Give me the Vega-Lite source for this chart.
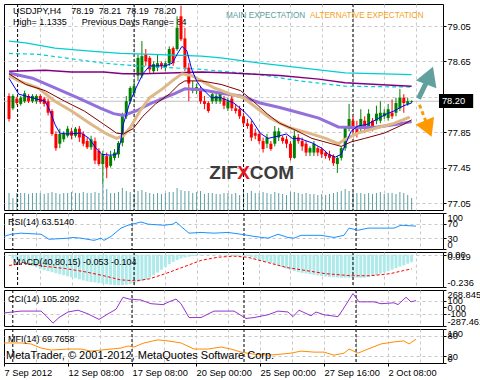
{
"$schema": "https://vega.github.io/schema/vega-lite/v6.json",
"background": "white",
"padding": {"left": 3, "top": 3, "right": -5, "bottom": 0},
"spacing": 3,
"bounds": "flush",
"resolve": {"scale": {"x": "independent", "y": "independent"}},
"config": {
  "view": {"stroke": "black", "strokeWidth": 1},
  "font": "Liberation Sans",
  "axis": {"labelFont": "Liberation Sans", "labelFontSize": 9.3, "labelColor": "black", "tickColor": "black", "domain": false, "gridColor": "#c8c8c8", "gridDash": [3, 3], "gridWidth": 1, "tickSize": 3, "labelPadding": 1, "title": null, "labelOverlap": false, "labelFlush": false, "tickCount": 30},
  "text": {"font": "Liberation Sans"}
},
"datasets": {
  "candles": [
    {"i":0,"o":78.26,"h":78.29,"l":77.97,"c":78.00,"v":1700},
    {"i":1,"o":78.12,"h":78.28,"l":78.10,"c":78.26,"v":1200},
    {"i":2,"o":78.23,"h":78.25,"l":78.16,"c":78.18,"v":1700},
    {"i":3,"o":78.17,"h":78.26,"l":78.15,"c":78.24,"v":1700},
    {"i":4,"o":78.20,"h":78.32,"l":78.18,"c":78.29,"v":1700},
    {"i":5,"o":78.26,"h":78.28,"l":78.18,"c":78.20,"v":1600},
    {"i":6,"o":78.20,"h":78.28,"l":78.18,"c":78.26,"v":1700},
    {"i":7,"o":78.20,"h":78.28,"l":78.17,"c":78.26,"v":1700},
    {"i":8,"o":78.26,"h":78.28,"l":78.17,"c":78.19,"v":1700},
    {"i":9,"o":78.23,"h":78.25,"l":78.14,"c":78.17,"v":1600},
    {"i":10,"o":78.20,"h":78.23,"l":78.04,"c":78.07,"v":1700},
    {"i":11,"o":78.09,"h":78.11,"l":77.81,"c":77.83,"v":1800},
    {"i":12,"o":77.83,"h":77.86,"l":77.64,"c":77.67,"v":1700},
    {"i":13,"o":77.72,"h":77.89,"l":77.67,"c":77.83,"v":1600},
    {"i":14,"o":77.77,"h":77.86,"l":77.74,"c":77.83,"v":1700},
    {"i":15,"o":77.81,"h":77.92,"l":77.79,"c":77.89,"v":1700},
    {"i":16,"o":77.86,"h":77.90,"l":77.77,"c":77.81,"v":1800},
    {"i":17,"o":77.81,"h":77.91,"l":77.79,"c":77.89,"v":1700},
    {"i":18,"o":77.89,"h":77.92,"l":77.74,"c":77.79,"v":1700},
    {"i":19,"o":77.83,"h":77.86,"l":77.69,"c":77.72,"v":1800},
    {"i":20,"o":77.75,"h":77.79,"l":77.66,"c":77.68,"v":1700},
    {"i":21,"o":77.68,"h":77.81,"l":77.65,"c":77.77,"v":1700},
    {"i":22,"o":77.75,"h":77.79,"l":77.49,"c":77.53,"v":1800},
    {"i":23,"o":77.64,"h":77.67,"l":77.47,"c":77.49,"v":1700},
    {"i":24,"o":77.49,"h":77.64,"l":77.27,"c":77.60,"v":2700},
    {"i":25,"o":77.58,"h":77.62,"l":77.33,"c":77.45,"v":2100},
    {"i":26,"o":77.47,"h":77.64,"l":77.45,"c":77.58,"v":1700},
    {"i":27,"o":77.56,"h":77.66,"l":77.53,"c":77.62,"v":1700},
    {"i":28,"o":77.60,"h":77.75,"l":77.56,"c":77.73,"v":1800},
    {"i":29,"o":77.73,"h":78.07,"l":77.69,"c":78.03,"v":2200},
    {"i":30,"o":78.03,"h":78.26,"l":78.00,"c":78.20,"v":1900},
    {"i":31,"o":78.20,"h":78.37,"l":78.17,"c":78.35,"v":1800},
    {"i":32,"o":78.29,"h":78.43,"l":78.26,"c":78.37,"v":1500},
    {"i":33,"o":78.49,"h":78.73,"l":78.43,"c":78.69,"v":1900},
    {"i":34,"o":78.49,"h":78.88,"l":78.46,"c":78.71,"v":2000},
    {"i":35,"o":78.73,"h":78.79,"l":78.60,"c":78.65,"v":1800},
    {"i":36,"o":78.69,"h":78.71,"l":78.52,"c":78.56,"v":1700},
    {"i":37,"o":78.54,"h":78.65,"l":78.52,"c":78.62,"v":1600},
    {"i":38,"o":78.58,"h":78.73,"l":78.54,"c":78.63,"v":1700},
    {"i":39,"o":78.63,"h":78.65,"l":78.56,"c":78.60,"v":1600},
    {"i":40,"o":78.58,"h":78.65,"l":78.54,"c":78.63,"v":1700},
    {"i":41,"o":78.63,"h":78.82,"l":78.60,"c":78.79,"v":1800},
    {"i":42,"o":78.80,"h":78.82,"l":78.60,"c":78.63,"v":1800},
    {"i":43,"o":78.79,"h":79.16,"l":78.77,"c":79.03,"v":2200},
    {"i":44,"o":79.16,"h":79.28,"l":78.88,"c":78.90,"v":2000},
    {"i":45,"o":78.91,"h":79.03,"l":78.54,"c":78.58,"v":1900},
    {"i":46,"o":78.58,"h":78.63,"l":78.20,"c":78.40,"v":1900},
    {"i":47,"o":78.32,"h":78.43,"l":78.29,"c":78.35,"v":1700},
    {"i":48,"o":78.32,"h":78.40,"l":78.28,"c":78.36,"v":1800},
    {"i":49,"o":78.34,"h":78.37,"l":78.17,"c":78.20,"v":1900},
    {"i":50,"o":78.20,"h":78.26,"l":78.11,"c":78.17,"v":1600},
    {"i":51,"o":78.18,"h":78.20,"l":78.07,"c":78.09,"v":1700},
    {"i":52,"o":78.20,"h":78.32,"l":78.17,"c":78.28,"v":1700},
    {"i":53,"o":78.20,"h":78.29,"l":78.17,"c":78.26,"v":1600},
    {"i":54,"o":78.20,"h":78.34,"l":78.17,"c":78.29,"v":1600},
    {"i":55,"o":78.23,"h":78.26,"l":78.11,"c":78.15,"v":1700},
    {"i":56,"o":78.12,"h":78.24,"l":78.09,"c":78.20,"v":1700},
    {"i":57,"o":78.23,"h":78.26,"l":78.09,"c":78.12,"v":1600},
    {"i":58,"o":78.12,"h":78.17,"l":78.06,"c":78.09,"v":1700},
    {"i":59,"o":78.11,"h":78.15,"l":78.00,"c":78.03,"v":1500},
    {"i":60,"o":78.03,"h":78.07,"l":77.92,"c":77.95,"v":1800},
    {"i":61,"o":77.95,"h":78.00,"l":77.89,"c":77.92,"v":1700},
    {"i":62,"o":77.94,"h":77.98,"l":77.75,"c":77.79,"v":1900},
    {"i":63,"o":77.84,"h":77.89,"l":77.77,"c":77.81,"v":1700},
    {"i":64,"o":77.83,"h":77.86,"l":77.72,"c":77.75,"v":1700},
    {"i":65,"o":77.75,"h":77.79,"l":77.62,"c":77.66,"v":1800},
    {"i":66,"o":77.72,"h":77.83,"l":77.67,"c":77.79,"v":1700},
    {"i":67,"o":77.72,"h":77.75,"l":77.64,"c":77.66,"v":1600},
    {"i":68,"o":77.72,"h":77.92,"l":77.69,"c":77.86,"v":1800},
    {"i":69,"o":77.79,"h":77.90,"l":77.75,"c":77.86,"v":1700},
    {"i":70,"o":77.79,"h":77.81,"l":77.72,"c":77.75,"v":1600},
    {"i":71,"o":77.77,"h":77.81,"l":77.67,"c":77.72,"v":1500},
    {"i":72,"o":77.72,"h":77.75,"l":77.53,"c":77.56,"v":1800},
    {"i":73,"o":77.56,"h":77.89,"l":77.55,"c":77.81,"v":1800},
    {"i":74,"o":77.79,"h":77.83,"l":77.72,"c":77.75,"v":1700},
    {"i":75,"o":77.75,"h":77.79,"l":77.64,"c":77.69,"v":1600},
    {"i":76,"o":77.72,"h":77.75,"l":77.58,"c":77.62,"v":1700},
    {"i":77,"o":77.62,"h":77.69,"l":77.58,"c":77.67,"v":1600},
    {"i":78,"o":77.62,"h":77.75,"l":77.58,"c":77.72,"v":1600},
    {"i":79,"o":77.67,"h":77.69,"l":77.58,"c":77.62,"v":1500},
    {"i":80,"o":77.66,"h":77.68,"l":77.56,"c":77.60,"v":1600},
    {"i":81,"o":77.62,"h":77.64,"l":77.55,"c":77.58,"v":1500},
    {"i":82,"o":77.60,"h":77.64,"l":77.53,"c":77.56,"v":1600},
    {"i":83,"o":77.58,"h":77.60,"l":77.47,"c":77.50,"v":1700},
    {"i":84,"o":77.49,"h":77.58,"l":77.39,"c":77.56,"v":1800},
    {"i":85,"o":77.56,"h":77.69,"l":77.53,"c":77.67,"v":1900},
    {"i":86,"o":77.67,"h":77.92,"l":77.64,"c":77.90,"v":2100},
    {"i":87,"o":77.89,"h":78.17,"l":77.86,"c":78.00,"v":1900},
    {"i":88,"o":77.98,"h":78.03,"l":77.83,"c":77.89,"v":1800},
    {"i":89,"o":77.92,"h":77.98,"l":77.79,"c":77.83,"v":1700},
    {"i":90,"o":77.90,"h":78.11,"l":77.86,"c":78.00,"v":1700},
    {"i":91,"o":77.98,"h":78.03,"l":77.84,"c":77.89,"v":1600},
    {"i":92,"o":77.92,"h":78.11,"l":77.89,"c":78.06,"v":1700},
    {"i":93,"o":77.98,"h":78.01,"l":77.86,"c":77.90,"v":1600},
    {"i":94,"o":77.98,"h":78.15,"l":77.94,"c":78.06,"v":1700},
    {"i":95,"o":77.98,"h":78.20,"l":77.95,"c":78.07,"v":1800},
    {"i":96,"o":78.03,"h":78.11,"l":78.00,"c":78.07,"v":1600},
    {"i":97,"o":78.01,"h":78.17,"l":77.98,"c":78.11,"v":1700},
    {"i":98,"o":78.07,"h":78.22,"l":78.00,"c":78.03,"v":1700},
    {"i":99,"o":78.07,"h":78.24,"l":78.03,"c":78.18,"v":1600},
    {"i":100,"o":78.12,"h":78.34,"l":78.09,"c":78.24,"v":1800},
    {"i":101,"o":78.24,"h":78.28,"l":78.07,"c":78.18,"v":1700},
    {"i":102,"o":78.17,"h":78.24,"l":78.15,"c":78.20,"v":1500},
    {"i":103,"o":78.19,"h":78.21,"l":78.18,"c":78.20,"v":1200}
  ],
  "seps": [{"i":2.2},{"i":32},{"i":60},{"i":88}],
  "ma": [
    {"s":"fast","i":0,"p":78.46},{"s":"fast","i":2.5,"p":78.28},{"s":"fast","i":9.25,"p":78.20},{"s":"fast","i":10.5,"p":78.09},{"s":"fast","i":11.75,"p":77.94},{"s":"fast","i":13,"p":77.84},{"s":"fast","i":15,"p":77.83},{"s":"fast","i":18.5,"p":77.84},{"s":"fast","i":20.5,"p":77.78},{"s":"fast","i":22.25,"p":77.67},{"s":"fast","i":23.75,"p":77.60},{"s":"fast","i":26,"p":77.59},{"s":"fast","i":27.5,"p":77.60},{"s":"fast","i":28.5,"p":77.73},{"s":"fast","i":29.25,"p":77.94},{"s":"fast","i":31,"p":78.20},{"s":"fast","i":32.5,"p":78.35},{"s":"fast","i":34.25,"p":78.51},{"s":"fast","i":36,"p":78.60},{"s":"fast","i":37.5,"p":78.60},{"s":"fast","i":40,"p":78.60},{"s":"fast","i":41.75,"p":78.63},{"s":"fast","i":43,"p":78.73},{"s":"fast","i":44.25,"p":78.82},{"s":"fast","i":45.5,"p":78.77},{"s":"fast","i":46.75,"p":78.56},{"s":"fast","i":48,"p":78.43},{"s":"fast","i":49.25,"p":78.35},{"s":"fast","i":51.75,"p":78.24},{"s":"fast","i":54.25,"p":78.24},{"s":"fast","i":57.5,"p":78.18},{"s":"fast","i":60,"p":78.09},{"s":"fast","i":61.75,"p":78.01},{"s":"fast","i":64.25,"p":77.84},{"s":"fast","i":66.25,"p":77.78},{"s":"fast","i":69.25,"p":77.81},{"s":"fast","i":71,"p":77.83},{"s":"fast","i":72.5,"p":77.78},{"s":"fast","i":74.25,"p":77.78},{"s":"fast","i":77.5,"p":77.73},{"s":"fast","i":80,"p":77.67},{"s":"fast","i":81.75,"p":77.60},{"s":"fast","i":83.5,"p":77.57},{"s":"fast","i":85,"p":77.60},{"s":"fast","i":86.25,"p":77.73},{"s":"fast","i":87.5,"p":77.86},{"s":"fast","i":89.25,"p":77.92},{"s":"fast","i":91.75,"p":77.94},{"s":"fast","i":94.25,"p":78.00},{"s":"fast","i":96.75,"p":78.06},{"s":"fast","i":98.5,"p":78.09},{"s":"fast","i":101,"p":78.15},{"s":"fast","i":103,"p":78.18},
    {"s":"maroon","i":0,"p":78.51},{"s":"maroon","i":4.25,"p":78.39},{"s":"maroon","i":9.25,"p":78.32},{"s":"maroon","i":14.25,"p":78.20},{"s":"maroon","i":19.25,"p":78.09},{"s":"maroon","i":24.25,"p":77.94},{"s":"maroon","i":27.5,"p":77.84},{"s":"maroon","i":29.25,"p":77.83},{"s":"maroon","i":31.75,"p":77.89},{"s":"maroon","i":34.25,"p":78.03},{"s":"maroon","i":37.5,"p":78.17},{"s":"maroon","i":41,"p":78.28},{"s":"maroon","i":43.5,"p":78.39},{"s":"maroon","i":45,"p":78.43},{"s":"maroon","i":49.25,"p":78.43},{"s":"maroon","i":54.25,"p":78.39},{"s":"maroon","i":59.25,"p":78.32},{"s":"maroon","i":62.5,"p":78.20},{"s":"maroon","i":66,"p":78.06},{"s":"maroon","i":69.25,"p":77.95},{"s":"maroon","i":72.5,"p":77.89},{"s":"maroon","i":77.5,"p":77.78},{"s":"maroon","i":82.5,"p":77.72},{"s":"maroon","i":85,"p":77.69},{"s":"maroon","i":87.5,"p":77.74},{"s":"maroon","i":91,"p":77.78},{"s":"maroon","i":96,"p":77.84},{"s":"maroon","i":101,"p":77.94},{"s":"maroon","i":103,"p":77.99},
    {"s":"tan","i":0,"p":78.49},{"s":"tan","i":2.5,"p":78.43},{"s":"tan","i":7.5,"p":78.35},{"s":"tan","i":11.75,"p":78.20},{"s":"tan","i":16,"p":78.09},{"s":"tan","i":21,"p":77.94},{"s":"tan","i":25,"p":77.83},{"s":"tan","i":27.5,"p":77.78},{"s":"tan","i":29.25,"p":77.81},{"s":"tan","i":31,"p":77.90},{"s":"tan","i":33.5,"p":78.09},{"s":"tan","i":36,"p":78.24},{"s":"tan","i":39.25,"p":78.34},{"s":"tan","i":41.75,"p":78.43},{"s":"tan","i":44.25,"p":78.51},{"s":"tan","i":46.75,"p":78.49},{"s":"tan","i":49.25,"p":78.43},{"s":"tan","i":52.5,"p":78.35},{"s":"tan","i":56.75,"p":78.28},{"s":"tan","i":60,"p":78.24},{"s":"tan","i":63.5,"p":78.12},{"s":"tan","i":66.75,"p":78.01},{"s":"tan","i":71.75,"p":77.90},{"s":"tan","i":76.75,"p":77.84},{"s":"tan","i":81,"p":77.78},{"s":"tan","i":84.25,"p":77.72},{"s":"tan","i":86,"p":77.77},{"s":"tan","i":89.25,"p":77.84},{"s":"tan","i":94.25,"p":77.90},{"s":"tan","i":98.5,"p":77.95},{"s":"tan","i":102.5,"p":78.02},
    {"s":"lav","i":0,"p":78.52},{"s":"lav","i":6,"p":78.46},{"s":"lav","i":11.75,"p":78.35},{"s":"lav","i":17.5,"p":78.24},{"s":"lav","i":23.5,"p":78.12},{"s":"lav","i":26.75,"p":78.06},{"s":"lav","i":29.25,"p":78.04},{"s":"lav","i":32.5,"p":78.09},{"s":"lav","i":36,"p":78.17},{"s":"lav","i":39.25,"p":78.23},{"s":"lav","i":42.5,"p":78.29},{"s":"lav","i":45,"p":78.34},{"s":"lav","i":49.25,"p":78.33},{"s":"lav","i":54.25,"p":78.29},{"s":"lav","i":59.25,"p":78.26},{"s":"lav","i":64.25,"p":78.18},{"s":"lav","i":69.25,"p":78.13},{"s":"lav","i":74.25,"p":78.07},{"s":"lav","i":79.25,"p":78.01},{"s":"lav","i":84.25,"p":77.91},{"s":"lav","i":89.25,"p":77.90},{"s":"lav","i":94.25,"p":77.91},{"s":"lav","i":99.25,"p":77.94},{"s":"lav","i":103,"p":77.97},
    {"s":"purple","i":0,"p":78.54},{"s":"purple","i":9.25,"p":78.55},{"s":"purple","i":16,"p":78.53},{"s":"purple","i":24.25,"p":78.53},{"s":"purple","i":29.25,"p":78.51},{"s":"purple","i":34.25,"p":78.51},{"s":"purple","i":41,"p":78.52},{"s":"purple","i":49.25,"p":78.53},{"s":"purple","i":56.75,"p":78.52},{"s":"purple","i":69.25,"p":78.49},{"s":"purple","i":79.25,"p":78.45},{"s":"purple","i":86,"p":78.41},{"s":"purple","i":94.25,"p":78.39},{"s":"purple","i":103,"p":78.37},
    {"s":"cyan","i":0,"p":78.88},{"s":"cyan","i":4.25,"p":78.86},{"s":"cyan","i":11.75,"p":78.80},{"s":"cyan","i":20,"p":78.77},{"s":"cyan","i":28.5,"p":78.74},{"s":"cyan","i":36.75,"p":78.73},{"s":"cyan","i":49.25,"p":78.71},{"s":"cyan","i":54.25,"p":78.69},{"s":"cyan","i":64.25,"p":78.63},{"s":"cyan","i":74.25,"p":78.58},{"s":"cyan","i":86,"p":78.52},{"s":"cyan","i":103,"p":78.50},
    {"s":"cyand","i":0,"p":78.74},{"s":"cyand","i":7.5,"p":78.73},{"s":"cyand","i":16,"p":78.68},{"s":"cyand","i":24.25,"p":78.63},{"s":"cyand","i":32.5,"p":78.60},{"s":"cyand","i":41,"p":78.58},{"s":"cyand","i":49.25,"p":78.56},{"s":"cyand","i":54.25,"p":78.54},{"s":"cyand","i":64.25,"p":78.50},{"s":"cyand","i":74.25,"p":78.43},{"s":"cyand","i":86,"p":78.37},{"s":"cyand","i":103,"p":78.36}
  ],
  "rsi": [
    {"i":0,"r":35},{"i":1.75,"r":41},{"i":4.25,"r":44},{"i":9.25,"r":41},{"i":11.25,"r":27},{"i":16,"r":30},{"i":17.25,"r":32},{"i":19.25,"r":30},{"i":22.5,"r":24},{"i":24.25,"r":30},{"i":25,"r":24},{"i":26.75,"r":35},{"i":29.25,"r":58},{"i":31,"r":66},{"i":34.25,"r":75},{"i":36,"r":69},{"i":40,"r":66},{"i":42.25,"r":69},{"i":43,"r":75},{"i":44.75,"r":58},{"i":46.25,"r":44},{"i":49.25,"r":46},{"i":52.5,"r":44},{"i":56,"r":46},{"i":59.25,"r":41},{"i":62.5,"r":35},{"i":66,"r":30},{"i":68.5,"r":41},{"i":71,"r":32},{"i":72.5,"r":30},{"i":74.25,"r":38},{"i":79.25,"r":38},{"i":82.5,"r":32},{"i":85,"r":38},{"i":86.25,"r":58},{"i":88.5,"r":52},{"i":91,"r":58},{"i":93.5,"r":58},{"i":97.5,"r":58},{"i":99.25,"r":66},{"i":103,"r":63.5}
  ],
  "macd": [
    {"i":1,"m":-0.030},{"i":2,"m":-0.038},{"i":3,"m":-0.048},{"i":4,"m":-0.060},{"i":5,"m":-0.072},{"i":6,"m":-0.083},{"i":7,"m":-0.093},{"i":8,"m":-0.104},{"i":9,"m":-0.114},{"i":10,"m":-0.120},{"i":11,"m":-0.128},{"i":12,"m":-0.135},{"i":13,"m":-0.143},{"i":14,"m":-0.150},{"i":15,"m":-0.158},{"i":16,"m":-0.165},{"i":17,"m":-0.172},{"i":18,"m":-0.180},{"i":19,"m":-0.188},{"i":20,"m":-0.194},{"i":21,"m":-0.199},{"i":22,"m":-0.203},{"i":23,"m":-0.208},{"i":24,"m":-0.212},{"i":25,"m":-0.216},{"i":26,"m":-0.220},{"i":27,"m":-0.223},{"i":28,"m":-0.224},{"i":29,"m":-0.223},{"i":30,"m":-0.220},{"i":31,"m":-0.214},{"i":32,"m":-0.207},{"i":33,"m":-0.199},{"i":34,"m":-0.193},{"i":35,"m":-0.183},{"i":36,"m":-0.168},{"i":37,"m":-0.150},{"i":38,"m":-0.131},{"i":39,"m":-0.110},{"i":40,"m":-0.089},{"i":41,"m":-0.070},{"i":42,"m":-0.053},{"i":43,"m":-0.040},{"i":44,"m":-0.028},{"i":45,"m":-0.021},{"i":46,"m":-0.015},{"i":47,"m":-0.010},{"i":48,"m":-0.007},{"i":49,"m":-0.005},{"i":50,"m":-0.004},{"i":51,"m":-0.003},{"i":52,"m":-0.003},{"i":53,"m":-0.003},{"i":54,"m":-0.003},{"i":55,"m":-0.004},{"i":56,"m":-0.004},{"i":57,"m":-0.005},{"i":58,"m":-0.006},{"i":59,"m":-0.008},{"i":60,"m":-0.010},{"i":61,"m":-0.011},{"i":62,"m":-0.020},{"i":63,"m":-0.029},{"i":64,"m":-0.038},{"i":65,"m":-0.045},{"i":66,"m":-0.052},{"i":67,"m":-0.060},{"i":68,"m":-0.068},{"i":69,"m":-0.079},{"i":70,"m":-0.090},{"i":71,"m":-0.101},{"i":72,"m":-0.110},{"i":73,"m":-0.119},{"i":74,"m":-0.128},{"i":75,"m":-0.133},{"i":76,"m":-0.137},{"i":77,"m":-0.142},{"i":78,"m":-0.147},{"i":79,"m":-0.152},{"i":80,"m":-0.156},{"i":81,"m":-0.161},{"i":82,"m":-0.163},{"i":83,"m":-0.165},{"i":84,"m":-0.167},{"i":85,"m":-0.168},{"i":86,"m":-0.169},{"i":87,"m":-0.169},{"i":88,"m":-0.169},{"i":89,"m":-0.169},{"i":90,"m":-0.169},{"i":91,"m":-0.168},{"i":92,"m":-0.162},{"i":93,"m":-0.155},{"i":94,"m":-0.148},{"i":95,"m":-0.139},{"i":96,"m":-0.130},{"i":97,"m":-0.121},{"i":98,"m":-0.110},{"i":99,"m":-0.099},{"i":100,"m":-0.088},{"i":101,"m":-0.078},{"i":102,"m":-0.066},{"i":103,"m":-0.055}
  ],
  "sig": [
    {"i":0,"m":-0.079},{"i":4.25,"m":-0.064},{"i":9.25,"m":-0.086},{"i":14.25,"m":-0.101},{"i":19.25,"m":-0.124},{"i":24.25,"m":-0.154},{"i":28.5,"m":-0.184},{"i":32.5,"m":-0.191},{"i":36,"m":-0.176},{"i":40,"m":-0.139},{"i":44.25,"m":-0.094},{"i":49.25,"m":-0.041},{"i":53.5,"m":-0.019},{"i":57.5,"m":-0.011},{"i":61,"m":-0.019},{"i":66,"m":-0.056},{"i":71,"m":-0.094},{"i":76,"m":-0.116},{"i":81,"m":-0.139},{"i":87.5,"m":-0.154},{"i":92.5,"m":-0.154},{"i":97.5,"m":-0.139},{"i":101,"m":-0.116},{"i":103,"m":-0.104}
  ],
  "cci": [
    {"i":0,"v":-86},{"i":4.25,"v":-57},{"i":9.25,"v":-57},{"i":10.5,"v":-129},{"i":12.25,"v":-243},{"i":13.75,"v":-157},{"i":16,"v":-71},{"i":18.5,"v":-43},{"i":21,"v":-100},{"i":23.75,"v":-186},{"i":26,"v":-100},{"i":28,"v":-29},{"i":29.75,"v":157},{"i":31.25,"v":129},{"i":34.25,"v":114},{"i":36.75,"v":57},{"i":39.75,"v":43},{"i":41.25,"v":86},{"i":43,"v":129},{"i":44.25,"v":57},{"i":46.25,"v":-157},{"i":49.25,"v":-157},{"i":52.5,"v":-57},{"i":57.5,"v":-57},{"i":60.5,"v":-171},{"i":62.5,"v":-157},{"i":66,"v":-114},{"i":68.5,"v":-57},{"i":71,"v":-71},{"i":72.25,"v":-143},{"i":73.75,"v":-43},{"i":76.75,"v":-129},{"i":78,"v":-71},{"i":80,"v":-114},{"i":83.5,"v":-143},{"i":84.75,"v":-29},{"i":87.25,"v":214},{"i":88.75,"v":86},{"i":92.5,"v":86},{"i":94.25,"v":57},{"i":97.5,"v":71},{"i":98.5,"v":43},{"i":100.5,"v":157},{"i":101.75,"v":86},{"i":103,"v":105}
  ],
  "mfi": [
    {"i":0,"v":59},{"i":4.25,"v":59},{"i":6.75,"v":56},{"i":9.25,"v":44},{"i":11.75,"v":38},{"i":16,"v":41},{"i":19.25,"v":41},{"i":21.75,"v":35},{"i":24.25,"v":38},{"i":26.75,"v":41},{"i":29.25,"v":44},{"i":31,"v":50},{"i":32.5,"v":47},{"i":35,"v":59},{"i":38.5,"v":68},{"i":41,"v":65},{"i":44.25,"v":59},{"i":47.5,"v":41},{"i":51,"v":41},{"i":54.25,"v":47},{"i":56.75,"v":41},{"i":59.25,"v":32},{"i":62.5,"v":26},{"i":66,"v":23},{"i":69.25,"v":26},{"i":71.75,"v":29},{"i":74.25,"v":35},{"i":77.5,"v":32},{"i":80,"v":32},{"i":82.5,"v":23},{"i":85,"v":29},{"i":86.25,"v":41},{"i":88.5,"v":29},{"i":91,"v":41},{"i":94.25,"v":56},{"i":97.5,"v":62},{"i":100,"v":65},{"i":101.25,"v":56},{"i":103,"v":70}
  ]
},
"vconcat": [
  {
    "width": 439, "height": 206,
    "layer": [
      {
        "data": {"name": "candles"},
        "mark": {"type": "bar", "width": 1, "color": "#5f9ea0", "clip": true},
        "encoding": {
          "x": {"field": "i", "type": "quantitative", "scale": {"domain": [0, 109.75], "nice": false, "zero": false}, "axis": {"values": [8,16,24,32,40,48,56,64,72,80,88,96,104], "tickCount": 30, "grid": true, "labels": false, "ticks": false}},
          "y": {"field": "v", "type": "quantitative", "scale": {"domain": [0, 20600], "nice": false}, "axis": null}
        }
      },
      {
        "layer": [
          {
            "data": {"values": [{}]},
            "mark": {"type": "rule", "color": "#c0c0c0", "strokeWidth": 1},
            "encoding": {"y": {"datum": 78.20}}
          },
          {
            "data": {"name": "seps"},
            "mark": {"type": "rule", "color": "black", "strokeDash": [3, 2], "strokeWidth": 1},
            "encoding": {"x": {"field": "i", "type": "quantitative"}}
          },
          {
            "data": {"values": [{}]},
            "mark": {"type": "text", "text": "USDJPY,H4\u00a0\u00a0\u00a0\u00a078.19\u00a0 78.21\u00a0 78.19\u00a0 78.20", "align": "left", "baseline": "middle", "fontSize": 9, "color": "black"},
            "encoding": {"x": {"datum": 1}, "y": {"datum": 79.22}}
          },
          {
            "data": {"values": [{}]},
            "mark": {"type": "text", "text": "High= 1.1335\u00a0\u00a0\u00a0\u00a0\u00a0\u00a0Previous Days Range= 84", "align": "left", "baseline": "middle", "fontSize": 9, "color": "black"},
            "encoding": {"x": {"datum": 1}, "y": {"datum": 79.095}}
          },
          {
            "data": {"values": [{}]},
            "mark": {"type": "text", "text": "MAIN EXPECTATION", "align": "left", "baseline": "middle", "fontSize": 8.2, "color": "#5a9c9c"},
            "encoding": {"x": {"datum": 55.5}, "y": {"datum": 79.163}}
          },
          {
            "data": {"values": [{}]},
            "mark": {"type": "text", "text": "ALTERNATIVE EXPECTATION", "align": "left", "baseline": "middle", "fontSize": 8.2, "color": "#f5a01a"},
            "encoding": {"x": {"datum": 77}, "y": {"datum": 79.163}}
          },
          {
            "data": {"name": "candles"},
            "mark": {"type": "rule", "strokeWidth": 1, "clip": true},
            "encoding": {
              "x": {"field": "i", "type": "quantitative"},
              "y": {"field": "l", "type": "quantitative", "scale": {"domain": [76.971, 79.299], "nice": false, "zero": false}, "axis": {"orient": "right", "values": [77.05, 77.45, 77.85, 78.25, 78.65, 79.05], "tickCount": 30, "format": ".2f", "grid": true, "labelOverlap": false}},
              "y2": {"field": "h"},
              "color": {"condition": {"test": "datum.c >= datum.o", "value": "#008000"}, "value": "#ff0000"}
            }
          },
          {
            "data": {"name": "candles"},
            "mark": {"type": "bar", "width": 3, "clip": true},
            "encoding": {
              "x": {"field": "i", "type": "quantitative"},
              "y": {"field": "o", "type": "quantitative"},
              "y2": {"field": "c"},
              "color": {"condition": {"test": "datum.c >= datum.o", "value": "#008000"}, "value": "#ff0000"}
            }
          },
          {
            "data": {"name": "ma"}, "transform": [{"filter": "datum.s == 'cyan'"}],
            "mark": {"type": "line", "color": "#00ced1", "strokeWidth": 1.2, "clip": true},
            "encoding": {"x": {"field": "i", "type": "quantitative"}, "y": {"field": "p", "type": "quantitative"}}
          },
          {
            "data": {"name": "ma"}, "transform": [{"filter": "datum.s == 'cyand'"}],
            "mark": {"type": "line", "color": "#00ced1", "strokeWidth": 1.2, "strokeDash": [4, 3], "clip": true},
            "encoding": {"x": {"field": "i", "type": "quantitative"}, "y": {"field": "p", "type": "quantitative"}}
          },
          {
            "data": {"name": "ma"}, "transform": [{"filter": "datum.s == 'purple'"}],
            "mark": {"type": "line", "color": "#800080", "strokeWidth": 1.5, "clip": true},
            "encoding": {"x": {"field": "i", "type": "quantitative"}, "y": {"field": "p", "type": "quantitative"}}
          },
          {
            "data": {"name": "ma"}, "transform": [{"filter": "datum.s == 'lav'"}],
            "mark": {"type": "line", "color": "#9370db", "strokeWidth": 3, "clip": true},
            "encoding": {"x": {"field": "i", "type": "quantitative"}, "y": {"field": "p", "type": "quantitative"}}
          },
          {
            "data": {"name": "ma"}, "transform": [{"filter": "datum.s == 'tan'"}],
            "mark": {"type": "line", "color": "#deb887", "strokeWidth": 3, "clip": true},
            "encoding": {"x": {"field": "i", "type": "quantitative"}, "y": {"field": "p", "type": "quantitative"}}
          },
          {
            "data": {"name": "ma"}, "transform": [{"filter": "datum.s == 'maroon'"}],
            "mark": {"type": "line", "color": "#800000", "strokeWidth": 1, "clip": true},
            "encoding": {"x": {"field": "i", "type": "quantitative"}, "y": {"field": "p", "type": "quantitative"}}
          },
          {
            "data": {"name": "ma"}, "transform": [{"filter": "datum.s == 'fast'"}],
            "mark": {"type": "line", "color": "#0000ff", "strokeWidth": 1, "clip": true},
            "encoding": {"x": {"field": "i", "type": "quantitative"}, "y": {"field": "p", "type": "quantitative"}}
          },
          {
            "data": {"values": [{}]},
            "mark": {"type": "text", "text": "ZIF", "align": "left", "baseline": "middle", "fontSize": 19, "fontWeight": "bold", "color": "#3c3c3c"},
            "encoding": {"x": {"datum": 51.25}, "y": {"datum": 77.389}}
          },
          {
            "data": {"values": [{}]},
            "mark": {"type": "text", "text": "X", "align": "left", "baseline": "middle", "fontSize": 19, "fontWeight": "bold", "color": "#e8141c"},
            "encoding": {"x": {"datum": 58.4}, "y": {"datum": 77.389}}
          },
          {
            "data": {"values": [{}]},
            "mark": {"type": "text", "text": "COM", "align": "left", "baseline": "middle", "fontSize": 19, "fontWeight": "bold", "color": "#3c3c3c"},
            "encoding": {"x": {"datum": 61.6}, "y": {"datum": 77.389}}
          },
          {
            "data": {"values": [{}]},
            "mark": {"type": "rule", "color": "#62a0a0", "strokeWidth": 5},
            "encoding": {"x": {"datum": 104.75}, "y": {"datum": 78.23}, "x2": {"datum": 106.75}, "y2": {"datum": 78.41}}
          },
          {
            "data": {"values": [{}]},
            "mark": {"type": "point", "shape": "triangle-up", "filled": true, "opacity": 1, "color": "#62a0a0", "size": 480, "angle": 21},
            "encoding": {"x": {"datum": 107.6}, "y": {"datum": 78.49}}
          },
          {
            "data": {"values": [{}]},
            "mark": {"type": "rule", "color": "#ff9900", "strokeWidth": 3, "strokeDash": [4, 3]},
            "encoding": {"x": {"datum": 105}, "y": {"datum": 78.16}, "x2": {"datum": 106.75}, "y2": {"datum": 77.96}}
          },
          {
            "data": {"values": [{}]},
            "mark": {"type": "point", "shape": "triangle-down", "filled": true, "opacity": 1, "color": "#ff9900", "size": 400, "angle": -23},
            "encoding": {"x": {"datum": 107.25}, "y": {"datum": 77.89}}
          },
          {
            "data": {"values": [{}]},
            "mark": {"type": "rect", "color": "black"},
            "encoding": {"x": {"datum": 110}, "x2": {"datum": 118.75}, "y": {"datum": 78.282}, "y2": {"datum": 78.123}}
          },
          {
            "data": {"values": [{}]},
            "mark": {"type": "text", "text": "78.20", "align": "left", "baseline": "middle", "fontSize": 9.3, "color": "white"},
            "encoding": {"x": {"datum": 110.75}, "y": {"datum": 78.20}}
          }
        ]
      }
    ],
    "resolve": {"scale": {"y": "independent"}}
  },
  {
    "width": 439, "height": 36,
    "layer": [
      {
        "data": {"name": "seps"},
        "mark": {"type": "rule", "color": "black", "strokeDash": [3, 2]},
        "encoding": {"x": {"field": "i", "type": "quantitative", "scale": {"domain": [0, 109.75], "nice": false, "zero": false}, "axis": {"values": [8,16,24,32,40,48,56,64,72,80,88,96,104], "tickCount": 30, "grid": true, "labels": false, "ticks": false}}}
      },
      {
        "data": {"name": "rsi"},
        "mark": {"type": "line", "color": "#1e90ff", "strokeWidth": 1, "clip": true},
        "encoding": {
          "x": {"field": "i", "type": "quantitative"},
          "y": {"field": "r", "type": "quantitative", "scale": {"domain": [0, 100], "nice": false}, "axis": {"orient": "right", "values": [100, 70, 30, 0], "tickCount": 30, "grid": true, "labelOverlap": false, "gridOpacity": {"condition": {"test": "datum.value == 30 || datum.value == 70", "value": 1}, "value": 0}, "labelBaseline": {"condition": {"test": "datum.value == 100", "value": "top"}, "value": "middle"}, "labelOffset": {"condition": {"test": "datum.value == 0", "value": -5}, "value": 0}}}
        }
      },
      {
        "data": {"values": [{}]},
        "mark": {"type": "text", "text": "RSI(14) 63.5140", "align": "left", "baseline": "middle", "fontSize": 9, "color": "black"},
        "encoding": {"x": {"datum": 1}, "y": {"datum": 75}}
      }
    ]
  },
  {
    "width": 439, "height": 35,
    "layer": [
      {
        "data": {"name": "macd"},
        "mark": {"type": "bar", "width": 3, "color": "#aeeaea", "clip": true},
        "encoding": {
          "x": {"field": "i", "type": "quantitative", "scale": {"domain": [0, 109.75], "nice": false, "zero": false}, "axis": {"values": [8,16,24,32,40,48,56,64,72,80,88,96,104], "tickCount": 30, "grid": true, "labels": false, "ticks": false}},
          "y": {"field": "m", "type": "quantitative", "scale": {"domain": [-0.236, 0.019], "nice": false}, "axis": {"orient": "right", "values": [0.019, 0, -0.236], "tickCount": 30, "grid": true, "labelOverlap": false, "gridOpacity": {"condition": {"test": "datum.value == 0", "value": 1}, "value": 0}, "labelExpr": "datum.value == 0 ? '0.00' : datum.value > 0 ? '0.019' : '-0.236'", "labelBaseline": {"condition": {"test": "datum.value > 0", "value": "top"}, "value": "middle"}, "labelOffset": {"condition": {"test": "datum.value < -0.2", "value": -5}, "value": 0}}}
        }
      },
      {
        "data": {"name": "seps"},
        "mark": {"type": "rule", "color": "black", "strokeDash": [3, 2]},
        "encoding": {"x": {"field": "i", "type": "quantitative"}}
      },
      {
        "data": {"name": "sig"},
        "mark": {"type": "line", "color": "#ff0000", "strokeWidth": 1, "strokeDash": [3, 2], "clip": true},
        "encoding": {"x": {"field": "i", "type": "quantitative"}, "y": {"field": "m", "type": "quantitative"}}
      },
      {
        "data": {"values": [{}]},
        "mark": {"type": "text", "text": "MACD(40,80,15) -0.053 -0.104", "align": "left", "baseline": "middle", "fontSize": 9, "color": "black"},
        "encoding": {"x": {"datum": 1}, "y": {"datum": -0.054}}
      }
    ]
  },
  {
    "width": 439, "height": 36,
    "layer": [
      {
        "data": {"name": "seps"},
        "mark": {"type": "rule", "color": "black", "strokeDash": [3, 2]},
        "encoding": {"x": {"field": "i", "type": "quantitative", "scale": {"domain": [0, 109.75], "nice": false, "zero": false}, "axis": {"values": [8,16,24,32,40,48,56,64,72,80,88,96,104], "tickCount": 30, "grid": true, "labels": false, "ticks": false}}}
      },
      {
        "data": {"name": "cci"},
        "mark": {"type": "line", "color": "#9932cc", "strokeWidth": 1, "clip": true},
        "encoding": {
          "x": {"field": "i", "type": "quantitative"},
          "y": {"field": "v", "type": "quantitative", "scale": {"domain": [-287.461, 268.8458], "nice": false, "zero": false}, "axis": {"orient": "right", "values": [268.8458, 100, 0, -100, -287.461], "tickCount": 30, "grid": true, "labelOverlap": false, "gridOpacity": {"condition": {"test": "datum.value == 100 || datum.value == -100", "value": 1}, "value": 0}, "labelExpr": "datum.value > 200 ? '268.8458' : datum.value == 100 ? '100' : datum.value == 0 ? '0.00' : datum.value == -100 ? '-100' : '-287.461'", "labelBaseline": {"condition": {"test": "datum.value > 200", "value": "top"}, "value": "middle"}, "labelOffset": {"condition": {"test": "datum.value < -200", "value": -5}, "value": 0}}}
        }
      },
      {
        "data": {"values": [{}]},
        "mark": {"type": "text", "text": "CCI(14) 105.2092", "align": "left", "baseline": "middle", "fontSize": 9, "color": "black"},
        "encoding": {"x": {"datum": 1}, "y": {"datum": 128}}
      }
    ]
  },
  {
    "width": 439, "height": 34,
    "layer": [
      {
        "data": {"name": "seps"},
        "mark": {"type": "rule", "color": "black", "strokeDash": [3, 2]},
        "encoding": {"x": {"field": "i", "type": "quantitative", "scale": {"domain": [0, 109.75], "nice": false, "zero": false}, "axis": {"values": [0,8,16,24,32,40,48,56,64,72,80,88,96,104], "tickCount": 30, "grid": true, "labelOverlap": false, "gridOpacity": {"condition": {"test": "datum.value == 0", "value": 0}, "value": 1}, "tickOpacity": {"condition": {"test": "datum.value % 16 != 0", "value": 0}, "value": 1}, "labelAlign": "left", "labelBaseline": "top", "labelPadding": 2, "labelExpr": "datum.value == 0 ? '7 Sep 2012' : datum.value == 16 ? '12 Sep 08:00' : datum.value == 32 ? '17 Sep 08:00' : datum.value == 48 ? '20 Sep 00:00' : datum.value == 64 ? '25 Sep 00:00' : datum.value == 80 ? '27 Sep 16:00' : datum.value == 96 ? '2 Oct 08:00' : ''"}}}
      },
      {
        "data": {"name": "mfi"},
        "mark": {"type": "line", "color": "#ff8c00", "strokeWidth": 1, "clip": true},
        "encoding": {
          "x": {"field": "i", "type": "quantitative"},
          "y": {"field": "v", "type": "quantitative", "scale": {"domain": [0, 100], "nice": false}, "axis": {"orient": "right", "values": [100, 80, 20, 0], "tickCount": 30, "grid": true, "labelOverlap": false, "gridOpacity": {"condition": {"test": "datum.value == 80 || datum.value == 20", "value": 1}, "value": 0}, "labelBaseline": {"condition": {"test": "datum.value == 100", "value": "top"}, "value": "middle"}, "labelOffset": {"condition": {"test": "datum.value == 0", "value": -5}, "value": 0}}}
        }
      },
      {
        "data": {"values": [{}]},
        "mark": {"type": "text", "text": "MFI(14) 69.7658", "align": "left", "baseline": "middle", "fontSize": 9, "color": "black"},
        "encoding": {"x": {"datum": 1}, "y": {"datum": 70.6}}
      },
      {
        "data": {"values": [{}]},
        "mark": {"type": "text", "text": "MetaTrader, \u00a9 2001-2012, MetaQuotes Software Corp.", "align": "left", "baseline": "middle", "fontSize": 11, "color": "black"},
        "encoding": {"x": {"datum": 0.5}, "y": {"datum": 20.6}}
      }
    ]
  }
]
}
